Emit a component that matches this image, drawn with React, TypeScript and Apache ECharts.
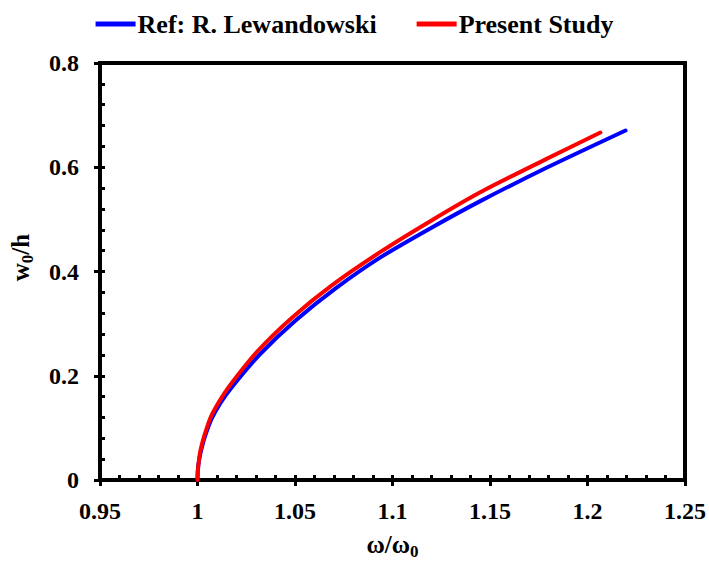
import React, { useEffect, useRef } from "react";
import * as echarts from "echarts";

const xTicks = [0.95, 1, 1.05, 1.1, 1.15, 1.2, 1.25];
const yTicks = [0, 0.2, 0.4, 0.6, 0.8];

const refX = [1.0, 1.0002, 1.0009, 1.0018, 1.0038, 1.0072, 1.0118, 1.0178, 1.032, 1.05, 1.071, 1.0942, 1.12, 1.145, 1.179, 1.2195];
const refY = [0.0, 0.02, 0.04, 0.056, 0.083, 0.117, 0.148, 0.179, 0.241, 0.305, 0.368, 0.428, 0.484, 0.535, 0.599, 0.6705];

const presentX = [1.0, 1.0002, 1.0008, 1.0016, 1.0035, 1.0067, 1.0112, 1.0169, 1.0305, 1.0483, 1.0687, 1.094, 1.12, 1.145, 1.179, 1.2066];
const presentY = [0.0, 0.02, 0.04, 0.058, 0.085, 0.12, 0.151, 0.183, 0.246, 0.311, 0.373, 0.438, 0.498, 0.552, 0.616, 0.6666];

const FONT = "Liberation Serif";

export default function App() {
  const ref = useRef<HTMLDivElement>(null);
  useEffect(() => {
    if (!ref.current) return;
    const chart = echarts.init(ref.current, undefined, { renderer: "svg" });
    const refData = refX.map((x, i) => [x, refY[i]]);
    const presentData = presentX.map((x, i) => [x, presentY[i]]);
    const xmin = xTicks[0];
    const xmax = xTicks[xTicks.length - 1];
    const ymin = yTicks[0];
    const ymax = yTicks[yTicks.length - 1];
    const baseX = {
      type: "value",
      min: xmin,
      max: xmax,
      interval: 0.05,
      gridIndex: 0,
      position: "bottom",
    };
    const baseY = {
      type: "value",
      min: ymin,
      max: ymax,
      interval: 0.2,
      gridIndex: 0,
      position: "left",
    };
    const fmt = (v: number) => String(parseFloat(v.toFixed(2)));
    chart.setOption({
      animation: false,
      backgroundColor: "#fff",
      grid: {
        left: 97,
        right: 23,
        top: 63,
        bottom: 88,
        show: true,
        borderColor: "#000",
        borderWidth: 4,
      },
      legend: {
        top: 6,
        left: "center",
        icon: "rect",
        itemWidth: 40,
        itemHeight: 5,
        itemGap: 40,
        textStyle: { fontFamily: FONT, fontWeight: "bold", fontSize: 26, color: "#000", padding: [0, 0, 0, -3] },
        data: ["Ref: R. Lewandowski", "Present Study"],
      },
      xAxis: [
        {
          ...baseX,
          name: "{a|ω/ω}{s|0}",
          nameLocation: "middle",
          nameGap: 49,
          nameTextStyle: {
            rich: {
              a: { fontFamily: FONT, fontWeight: "bold", fontSize: 25, color: "#000" },
              s: { fontFamily: FONT, fontWeight: "bold", fontSize: 17, color: "#000", padding: [14, 0, 0, 0] },
            },
          },
          axisLine: { show: true, lineStyle: { color: "#000", width: 4 } },
          axisTick: { show: true, inside: false, length: 6, lineStyle: { color: "#000", width: 3 } },
          axisLabel: {
            margin: 19,
            fontFamily: FONT,
            fontWeight: "bold",
            fontSize: 24,
            color: "#000",
            formatter: fmt,
          },
          splitLine: { show: false },
        },
        {
          ...baseX,
          axisLine: { show: false },
          axisLabel: { show: false },
          axisTick: { show: true, inside: true, length: 5, lineStyle: { color: "#000", width: 3 } },
          minorTick: { show: true, splitNumber: 5, length: 5, lineStyle: { color: "#000", width: 3 } },
          splitLine: { show: false },
        },
      ],
      yAxis: [
        {
          ...baseY,
          name: "{a|w}{s|0}{a|/h}",
          nameLocation: "middle",
          nameRotate: 90,
          nameGap: 64,
          nameTextStyle: {
            padding: [0, 0, 0, 28],
            rich: {
              a: { fontFamily: FONT, fontWeight: "bold", fontSize: 25, color: "#000" },
              s: { fontFamily: FONT, fontWeight: "bold", fontSize: 17, color: "#000", padding: [14, 0, 0, 0] },
            },
          },
          axisLine: { show: true, lineStyle: { color: "#000", width: 4 } },
          axisTick: { show: true, inside: false, length: 6, lineStyle: { color: "#000", width: 3 } },
          axisLabel: {
            margin: 21,
            fontFamily: FONT,
            fontWeight: "bold",
            fontSize: 24,
            color: "#000",
            formatter: fmt,
          },
          splitLine: { show: false },
        },
        {
          ...baseY,
          axisLine: { show: false },
          axisLabel: { show: false },
          axisTick: { show: true, inside: true, length: 5, lineStyle: { color: "#000", width: 3 } },
          minorTick: { show: true, splitNumber: 5, length: 5, lineStyle: { color: "#000", width: 3 } },
          splitLine: { show: false },
        },
      ],
      series: [
        {
          name: "Ref: R. Lewandowski",
          type: "line",
          xAxisIndex: 0,
          yAxisIndex: 0,
          data: refData,
          smooth: 0.25,
          symbol: "none",
          lineStyle: { color: "#0000FF", width: 4, cap: "round" },
          itemStyle: { color: "#0000FF" },
        },
        {
          name: "Present Study",
          type: "line",
          xAxisIndex: 0,
          yAxisIndex: 0,
          data: presentData,
          smooth: 0.25,
          symbol: "none",
          lineStyle: { color: "#FF0000", width: 4, cap: "round" },
          itemStyle: { color: "#FF0000" },
        },
      ],
    });
    return () => chart.dispose();
  }, []);
  return <div ref={ref} style={{ width: 709, height: 568, position: "absolute", left: 0, top: 0 }} />;
}
